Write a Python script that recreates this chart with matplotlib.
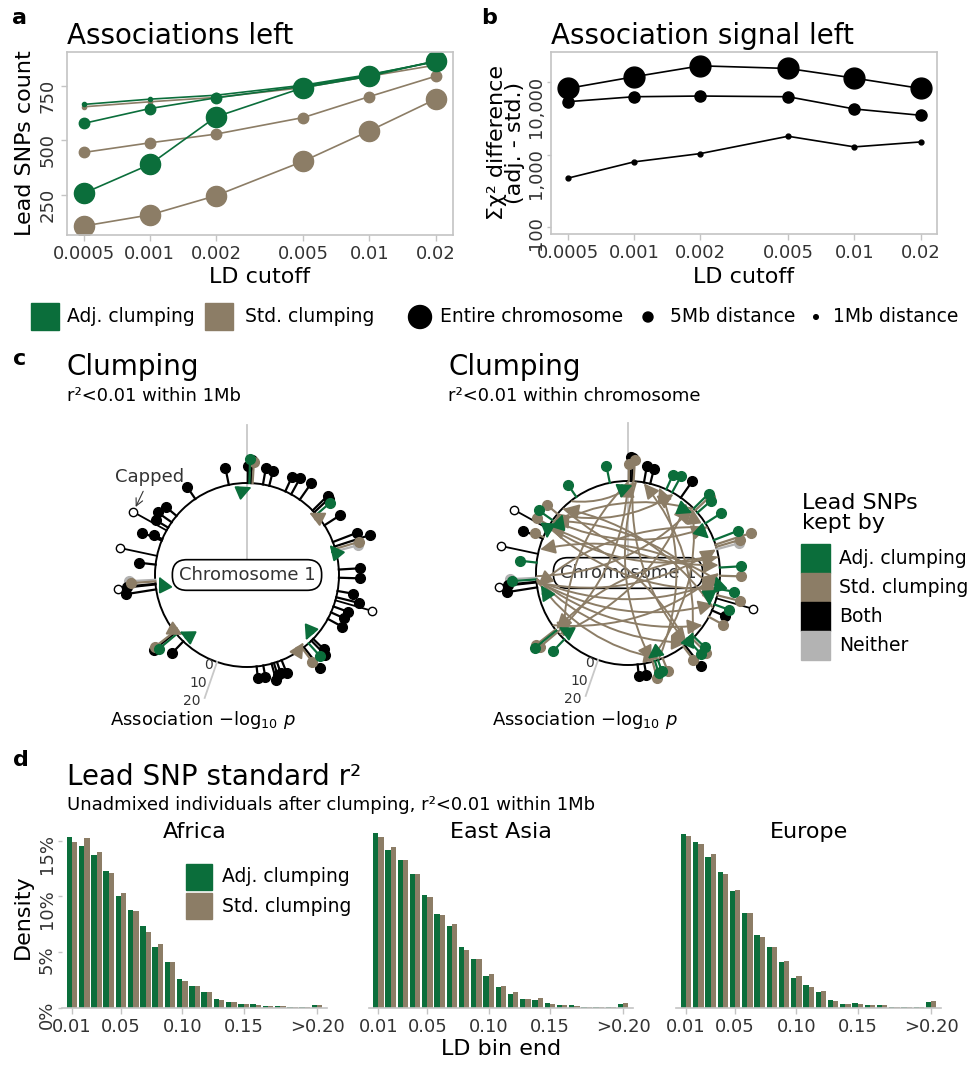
import numpy as np
import matplotlib
matplotlib.use("Agg")
import matplotlib.pyplot as plt
from matplotlib.patches import Rectangle, Circle, FancyArrowPatch
from matplotlib.ticker import NullLocator
from matplotlib.transforms import offset_copy

# ---- colours ----
GREEN = "#0b6e3b"
BROWN = "#8c7d66"
GREY = "#b3b3b3"
SPINE = "#c4c4c4"
TXT = "#333333"
CAT_COLOR = {"a": GREEN, "s": BROWN, "b": "black", "n": GREY}
CAT_Z = {"n": 3, "b": 4, "s": 5, "a": 6}

# ---- panel a / b data ----
ld_cutoffs = [0.0005, 0.001, 0.002, 0.005, 0.01, 0.02]
ld_labels = ["0.0005", "0.001", "0.002", "0.005", "0.01", "0.02"]

adj_chrom = [258, 390, 608, 742, 794, 864]
adj_5mb = [578, 646, 695, 748, 799, 863]
adj_1mb = [665, 689, 707, 753, 802, 860]
std_chrom = [108, 159, 247, 405, 544, 689]
std_5mb = [445, 489, 529, 605, 701, 794]
std_1mb = [654, 677, 697, 742, 794, 845]

chi_chrom = [8260, 11970, 16950, 15590, 11470, 8260]
chi_5mb = [5420, 6350, 6490, 6350, 4300, 3520]
chi_1mb = [477, 801, 1043, 1808, 1290, 1510]

# ---- panel c data (angle clockwise from top, -log10 p) ----
snp_angle = [348.6, 0.5, 1.5, 2.5, 3.5, 10, 14, 24.6, 28.7, 35, 45.5, 47, 49, 57.3,
             69, 72, 73.5, 75, 86.6, 91.7, 100, 104, 106, 110, 114, 118.5, 134, 135.6,
             138, 141.8, 143, 157.9, 161, 163, 164.5, 169.8, 174, 223.8, 230, 231.2, 232,
             261, 264, 264.5, 266, 267, 276.5, 282, 292, 293, 299, 301, 305, 310, 325.8]
snp_logp = [9, 9, 12.5, 12, 11, 8.6, 8.2, 8.4, 10, 10.7, 11, 10.5, 9.5, 10,
            13.6, 19.5, 13, 12, 11, 10.9, 8, 12.2, 25, 8.4, 7.4, 8.5, 8, 10.5,
            9, 14, 8.6, 7.4, 6, 6.5, 9, 6, 6, 8.6, 12, 14.6, 12.8,
            16, 25, 15, 13, 14, 8.8, 25, 11.2, 5, 25, 7.5, 9, 7.5, 7.7]
kept_1mb = "bbabs" "bbbbb" "bbabb" "bsnbb" "bbbbb" "bbbab" "sbbbb" "bbbab" "sbbbs" "nbbbb" "bbbbb"
kept_chrom = "asbbs" "bbaab" "asaaa" "ssnas" "asbab" "sasab" "ssaas" "bbasa" "sbbba" "nabbs" "bsasa"

arrows_1mb = [(354, 3, "a"), (51, 45, "s"), (75, 70, "a"), (262, 269, "a"),
              (224, 230, "a"), (233, 227, "s"), (131, 138, "a"), (146, 140, "s")]
arrows_chrom = [
    (265, 95, "s"), (265, 110, "s"), (266, 140, "s"), (265, 160, "s"), (266, 125, "s"),
    (264, 75, "s"), (268, 45, "s"), (300, 80, "s"), (300, 100, "s"), (305, 60, "s"),
    (310, 30, "s"), (315, 85, "s"), (322, 5, "s"), (230, 0, "s"), (228, 40, "s"),
    (235, 90, "s"), (0, 225, "s"), (5, 165, "s"), (3, 140, "s"), (45, 300, "s"),
    (60, 262, "s"), (80, 232, "s"), (95, 285, "s"), (102, 305, "s"), (140, 300, "s"),
    (160, 20, "s"), (166, 45, "s"), (135, 10, "s"), (112, 315, "s"),
    (356, 3, "a"), (41, 47, "a"), (61, 67, "a"), (98, 92, "a"), (106, 112, "a"),
    (138, 132, "a"), (161, 167, "a"), (226, 232, "a"), (299, 293, "a"), (306, 312, "a"),
    (256, 262, "a"),
]

# ---- panel d data (% of lead SNPs per LD bin) ----
bin_ends = [0.01 * k for k in range(1, 22)]
bin_ticks = [0.01, 0.05, 0.10, 0.15, 0.21]
bin_tick_labels = ["0.01", "0.05", "0.10", "0.15", ">0.20"]
africa_adj = [15.3, 14.5, 13.7, 12.3, 10.0, 8.8, 7.3, 5.4, 4.1, 2.6, 1.9, 1.4, 0.8, 0.5, 0.3, 0.3, 0.12, 0.1, 0.06, 0.03, 0.2]
africa_std = [14.9, 15.2, 14.0, 12.1, 10.3, 8.7, 6.8, 5.7, 4.1, 2.4, 1.9, 1.35, 0.7, 0.45, 0.27, 0.2, 0.1, 0.1, 0.03, 0.03, 0.18]
asia_adj = [15.7, 14.2, 13.3, 12.0, 10.1, 8.4, 7.3, 5.4, 4.4, 2.85, 1.8, 1.25, 0.75, 0.65, 0.4, 0.2, 0.18, 0.08, 0.05, 0.05, 0.33]
asia_std = [15.3, 14.4, 13.3, 12.0, 9.9, 8.35, 7.5, 5.2, 4.4, 3.0, 1.95, 1.35, 0.75, 0.85, 0.35, 0.2, 0.15, 0.06, 0.03, 0.05, 0.4]
europe_adj = [15.6, 14.9, 13.5, 12.2, 10.45, 8.5, 6.5, 5.4, 4.05, 2.65, 2.0, 1.4, 0.7, 0.35, 0.4, 0.2, 0.18, 0.08, 0.08, 0.05, 0.48]
europe_std = [15.45, 14.7, 13.8, 12.0, 10.6, 8.5, 6.35, 5.4, 4.15, 2.85, 1.8, 1.45, 0.6, 0.35, 0.33, 0.18, 0.18, 0.05, 0.08, 0.05, 0.62]

W, H = 968, 1065


def box(x0, y0, x1, y1):
    # pixel box (top-left origin) -> figure fraction rect
    return [x0 / W, 1 - y1 / H, (x1 - x0) / W, (y1 - y0) / H]


def frame(ax):
    for s in ax.spines.values():
        s.set_color(SPINE)
        s.set_linewidth(1.2)
    ax.tick_params(colors=SPINE, labelcolor=TXT, labelsize=13, length=4, width=1)


fig = plt.figure(figsize=(W / 100, H / 100), dpi=100)

# ---- panel a ----
ax_a = fig.add_axes(box(67, 52, 453, 235))
ax_a.set_xscale("log")
for vals, col, ms in [(std_1mb, BROWN, 3), (std_5mb, BROWN, 7.5), (std_chrom, BROWN, 14.5),
                      (adj_1mb, GREEN, 3), (adj_5mb, GREEN, 7.5), (adj_chrom, GREEN, 14.5)]:
    ax_a.plot(ld_cutoffs, vals, "-o", color=col, ms=ms, lw=1.2)
ax_a.set_xlim(0.00042, 0.024)
ax_a.set_ylim(67, 905)
ax_a.set_xticks(ld_cutoffs)
ax_a.set_xticklabels(ld_labels)
ax_a.xaxis.set_minor_locator(NullLocator())
ax_a.set_yticks([250, 500, 750])
ax_a.tick_params(axis="y", labelrotation=90)
frame(ax_a)
ax_a.set_title("Associations left", loc="left", fontsize=20, pad=6)

# ---- panel b ----
ax_b = fig.add_axes(box(551, 52, 937, 234))
ax_b.set_xscale("log")
ax_b.set_yscale("log")
for vals, ms in [(chi_1mb, 3.5), (chi_5mb, 8), (chi_chrom, 15)]:
    ax_b.plot(ld_cutoffs, vals, "-o", color="black", ms=ms, lw=1.2)
ax_b.set_xlim(0.00042, 0.0237)
ax_b.set_ylim(81, 26300)
ax_b.set_xticks(ld_cutoffs)
ax_b.set_xticklabels(ld_labels)
ax_b.xaxis.set_minor_locator(NullLocator())
ax_b.set_yticks([100, 1000, 10000])
ax_b.set_yticklabels(["100", "1,000", "10,000"])
ax_b.yaxis.set_minor_locator(NullLocator())
frame(ax_b)
ax_b.tick_params(axis="y", labelrotation=90, length=3, pad=1.5)
# nudge the lowest label up so it clears the x tick labels
low = ax_b.get_yticklabels()[0]
low.set_transform(offset_copy(low.get_transform(), fig=fig, x=0, y=4, units="dots"))
ax_b.set_title("Association signal left", loc="left", fontsize=20, pad=6)

# ---- panel c ----
R = 92.0
SCALE = 1.9  # px per -log10 p unit


def polar(angle_deg, r):
    t = np.deg2rad(angle_deg)
    return r * np.sin(t), r * np.cos(t)


def draw_chrom(ax, kept, arrows):
    ax.set_xlim(-150, 150)
    ax.set_ylim(-170, 170)
    ax.axis("off")
    ax.plot([0, 0], [0, R + 58], color="#c8c8c8", lw=1.3, zorder=1)
    ax.add_patch(Circle((0, 0), R, fill=False, ec="black", lw=1.4, zorder=2))
    for ang, lp, c in zip(snp_angle, snp_logp, kept):
        capped = lp > 20
        x0, y0 = polar(ang, R)
        x1, y1 = polar(ang, R + min(lp, 20) * SCALE)
        if capped:
            ax.plot([x0, x1], [y0, y1], color="black", lw=1.3, zorder=4)
            ax.plot(x1, y1, "o", ms=6, mfc="white", mec="black", mew=1, zorder=4)
        else:
            col = CAT_COLOR[c]
            ax.plot([x0, x1], [y0, y1], color=col, lw=1.6, zorder=CAT_Z[c])
            ax.plot(x1, y1, "o", ms=7, color=col, zorder=CAT_Z[c])
    for a1, a2, c in arrows:
        short = abs(((a2 - a1 + 180) % 360) - 180) < 15
        rr = R - 4 if short else R - 1
        p1 = polar(a1, rr)
        p2 = polar(a2, rr)
        ax.add_patch(FancyArrowPatch(p1, p2, connectionstyle="arc3,rad=0.2",
                                     arrowstyle="-|>,head_length=0.9,head_width=0.45",
                                     mutation_scale=10, color=CAT_COLOR[c], lw=1.4,
                                     shrinkA=0, shrinkB=0, zorder=8 if c == "a" else 7))
    ax.text(0, 0, "Chromosome 1", ha="center", va="center", fontsize=13, color=TXT, zorder=6,
            bbox=dict(boxstyle="round,pad=0.35,rounding_size=0.8", fc="white", ec="black", lw=1.2))
    # -log10 p scale
    sx0, sy0 = polar(199, R)
    sx1, sy1 = polar(199, R + 20 * SCALE)
    ax.plot([sx0, sx1], [sy0, sy1], color="#c8c8c8", lw=1.3, zorder=3)
    for v in (0, 10, 20):
        tx, ty = polar(199, R + v * SCALE)
        ax.text(tx - 4, ty - 3, str(v), ha="right", va="center", fontsize=10, color=TXT)


ax_c1 = fig.add_axes(box(97, 405, 397, 745))
draw_chrom(ax_c1, kept_1mb, arrows_1mb)
cap_x, cap_y = polar(299, R + 20 * SCALE)
ax_c1.annotate("Capped", xy=(cap_x, cap_y), xytext=(-97, 98), ha="center", va="center",
               fontsize=13, color=TXT,
               arrowprops=dict(arrowstyle="->", color=TXT, lw=0.8, shrinkA=2, shrinkB=4))

ax_c2 = fig.add_axes(box(478, 403, 778, 743))
draw_chrom(ax_c2, kept_chrom, arrows_chrom)

# ---- panel d ----
BW = 0.0043
regions = [("Africa", africa_adj, africa_std, 62.2, 326.8),
           ("East Asia", asia_adj, asia_std, 368.7, 633.0),
           ("Europe", europe_adj, europe_std, 676.3, 941.0)]
x = np.array(bin_ends)
for i, (name, adj, std, x0, x1) in enumerate(regions):
    ax = fig.add_axes(box(x0, 831.8, x1, 1007.5))
    ax.patch.set_alpha(0)
    ax.bar(x - BW / 2, adj, width=BW, color=GREEN)
    ax.bar(x + BW / 2, std, width=BW, color=BROWN)
    ax.set_xlim(0.002, 0.218)
    ax.set_ylim(0, 15.8)
    for s in ["top", "right", "left"]:
        ax.spines[s].set_visible(False)
    ax.spines["bottom"].set_color(SPINE)
    ax.spines["bottom"].set_linewidth(1.2)
    ax.tick_params(colors=SPINE, labelcolor=TXT, labelsize=13, length=4, width=1)
    ax.set_xticks(bin_ticks)
    ax.set_xticklabels(bin_tick_labels)
    if i == 0:
        ax.set_yticks([0, 5, 10, 15])
        ax.set_yticklabels(["0%", "5%", "10%", "15%"])
        ax.tick_params(axis="y", labelrotation=90, length=3, pad=1.5)
    else:
        ax.set_yticks([])
    ax.text(0.5, 1 - 6 / 175.7, name, transform=ax.transAxes, ha="center",
            va="baseline", fontsize=16)

# ---- overlay for free text and legends (pixel coordinates) ----
ov = fig.add_axes([0, 0, 1, 1])
ov.set_xlim(0, W)
ov.set_ylim(H, 0)
ov.axis("off")

for lab, px, py in [("a", 12, 24), ("b", 481, 24), ("c", 13, 365), ("d", 13, 766)]:
    ov.text(px, py, lab, fontsize=16, fontweight="bold", va="baseline")

# axis labels
ov.text(25, 143, "Lead SNPs count", rotation=90, ha="center", va="center", fontsize=16)
ov.text(260, 277, "LD cutoff", ha="center", va="center", fontsize=16)
ov.text(744, 277, "LD cutoff", ha="center", va="center", fontsize=16)
ov.text(506, 143, "Σχ² difference\n(adj. - std.)", rotation=90, ha="center", va="center",
        fontsize=16, linespacing=0.88)

# legend row under a / b
ov.add_patch(Rectangle((31, 303), 28, 27, color=GREEN))
ov.text(67, 317, "Adj. clumping", va="center", fontsize=13.5)
ov.add_patch(Rectangle((205, 303), 28, 27, color=BROWN))
ov.text(245, 317, "Std. clumping", va="center", fontsize=13.5)
ov.add_patch(Circle((420, 317), 11.5, color="black"))
ov.text(440, 317, "Entire chromosome", va="center", fontsize=13.5)
ov.add_patch(Circle((648, 317), 5, color="black"))
ov.text(670, 317, "5Mb distance", va="center", fontsize=13.5)
ov.add_patch(Circle((816, 317), 2.3, color="black"))
ov.text(833, 317, "1Mb distance", va="center", fontsize=13.5)

# panel c titles
ov.text(67, 375, "Clumping", fontsize=20, va="baseline")
ov.text(67, 401, "r²<0.01 within 1Mb", fontsize=13, va="baseline")
ov.text(448, 375, "Clumping", fontsize=20, va="baseline")
ov.text(448, 401, "r²<0.01 within chromosome", fontsize=13, va="baseline")
ov.text(203, 720, r"Association $-\log_{10}\,p$", ha="center", va="center", fontsize=13)
ov.text(585, 720, r"Association $-\log_{10}\,p$", ha="center", va="center", fontsize=13)

# panel c legend
ov.text(802, 493, "Lead SNPs\nkept by", fontsize=16, va="top", linespacing=1.0)
for k, (c, lab) in enumerate([("a", "Adj. clumping"), ("s", "Std. clumping"),
                              ("b", "Both"), ("n", "Neither")]):
    y0 = 544 + 29 * k
    ov.add_patch(Rectangle((801, y0), 29, 29, color=CAT_COLOR[c]))
    ov.text(839, y0 + 14.5, lab, va="center", fontsize=13.5)

# panel d titles, legend, labels
ov.text(67, 785, "Lead SNP standard r²", fontsize=20, va="baseline")
ov.text(67, 810, "Unadmixed individuals after clumping, r²<0.01 within 1Mb", fontsize=13,
        va="baseline")
ov.add_patch(Rectangle((186, 864), 26, 26, color=GREEN))
ov.text(222, 877, "Adj. clumping", va="center", fontsize=13.5)
ov.add_patch(Rectangle((186, 893), 26, 26, color=BROWN))
ov.text(222, 906, "Std. clumping", va="center", fontsize=13.5)
ov.text(23, 917, "Density", rotation=90, ha="center", va="center", fontsize=16)
ov.text(501, 1049, "LD bin end", ha="center", va="center", fontsize=16)

fig.savefig("out.png", dpi=100)
